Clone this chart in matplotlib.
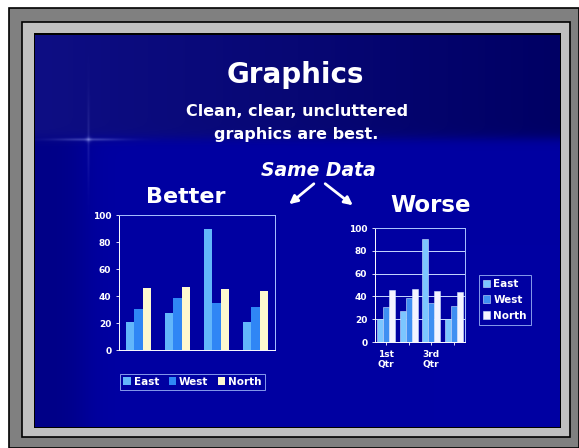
import numpy as np
import matplotlib
matplotlib.use("Agg")
import matplotlib.pyplot as plt
from matplotlib.patches import Rectangle

W, H = 579, 448

quarters = ["1st Qtr", "2nd Qtr", "3rd Qtr", "4th Qtr"]
east = [20.4, 27.4, 90.0, 20.4]
west = [30.6, 38.6, 34.6, 31.6]
north = [45.9, 46.9, 45.0, 43.9]
series_names = ["East", "West", "North"]
y_ticks = [0, 20, 40, 60, 80, 100]

colors = {
    "white": "#ffffff",
    "frame_dark": "#808080",
    "frame_light": "#c0c0c0",
    "east": "#62b6fb",
    "west": "#2f86f5",
    "north": "#fdf8cf",
    "east_3d": "#7cc6ff",
    "west_3d": "#3f8ff2",
    "north_3d": "#f4f4ff",
    "axis": "#a9c2ff",
}


def fig_box(left, top, right, bottom):
    """pixel box (from top-left) -> figure fraction rect"""
    return [left / W, 1 - bottom / H, (right - left) / W, (bottom - top) / H]


def slide_background():
    yy, xx = np.mgrid[0:H, 0:W].astype(float)
    # lower band: bright blue, slightly darker strip at the left
    lower_b = 135 + 27 / (1 + np.exp(-(xx - 82) / 10))
    lower = np.stack([np.zeros_like(xx), np.zeros_like(xx), lower_b], axis=-1)
    # top band: navy, a little lighter to the left
    t = np.clip((xx - 35) / 525, 0, 1)
    top = np.stack([14 * (1 - t), 14 * (1 - t), 132 - 32 * t], axis=-1)
    mix = 1 / (1 + np.exp(-(yy - 138) / 3))[..., None]
    img = top * (1 - mix) + lower * mix
    # faint lens flare at the left
    dx, dy = xx - 88, yy - 139
    glow = (0.30 * np.exp(-dy ** 2 / 2.0) * np.exp(-dx ** 2 / (2 * 24 ** 2))
            + 0.12 * np.exp(-dx ** 2 / 1.5) * np.exp(-dy ** 2 / (2 * 30 ** 2))
            + 0.25 * np.exp(-(dx ** 2 + dy ** 2) / 8))
    flare = np.array([170, 180, 255])
    img = img + glow[..., None] * (flare - img)
    return np.clip(img / 255, 0, 1)


fig = plt.figure(figsize=(W / 100, H / 100), dpi=100, facecolor="white")

bg = fig.add_axes([0, 0, 1, 1])
bg.set_xlim(0, W)
bg.set_ylim(H, 0)
bg.axis("off")

# picture frame
bg.add_patch(Rectangle((9, 8), W - 9, H - 8, fc=colors["frame_dark"], ec="black", lw=1.2))
bg.add_patch(Rectangle((22, 22), 548, 415, fc=colors["frame_light"], ec="black", lw=1.2))
bg.add_patch(Rectangle((34, 33), 527, 395, fc="black", ec="none"))
bg.imshow(slide_background()[35:427, 35:560], extent=[35, 560, 427, 35], zorder=2)

# titles
text_kw = dict(color="white", ha="center", va="center", weight="bold", zorder=5)
bg.text(295, 75, "Graphics", fontsize=20, **text_kw)
bg.text(297, 111, "Clean, clear, uncluttered", fontsize=11.5, **text_kw)
bg.text(296, 134, "graphics are best.", fontsize=11.5, **text_kw)
bg.text(318, 170, "Same Data", fontsize=13.5, style="italic", **text_kw)
bg.text(186, 197, "Better", fontsize=16, **text_kw)
bg.text(431, 206, "Worse", fontsize=16.5, **text_kw)

arrow_kw = dict(arrowstyle="-|>", color="white", lw=2, mutation_scale=12)
bg.annotate("", xy=(287, 206), xytext=(316, 182), arrowprops=arrow_kw, zorder=5)
bg.annotate("", xy=(355, 207), xytext=(323, 182), arrowprops=arrow_kw, zorder=5)

x = np.arange(len(quarters))
series = [east, west, north]

# ---- "Better" chart
ax1 = fig.add_axes(fig_box(119, 215, 275, 350))
ax1.patch.set_alpha(0)
bw = 0.22
for i, (vals, key) in enumerate(zip(series, ["east", "west", "north"])):
    ax1.bar(x + (i - 1) * bw, vals, bw, color=colors[key], label=series_names[i],
            edgecolor="none")
ax1.set_xlim(-0.5, 3.5)
ax1.set_ylim(0, 100)
ax1.set_yticks(y_ticks)
ax1.set_xticks([])
ax1.tick_params(axis="y", colors="white", labelsize=6.5, length=2, width=0.6)
for lab in ax1.get_yticklabels():
    lab.set_fontweight("bold")
for sp in ax1.spines.values():
    sp.set_color(colors["axis"])
    sp.set_linewidth(0.7)
ax1.spines["left"].set_color("white")
ax1.spines["bottom"].set_color("white")
leg1 = ax1.legend(loc="center", bbox_to_anchor=(115 / W, 1 - 382 / H, 155 / W, 0.001),
                  bbox_transform=fig.transFigure, ncol=3, fontsize=7.5, frameon=True,
                  handlelength=0.7, handleheight=0.7, handletextpad=0.3,
                  columnspacing=0.9, borderpad=0.3, fancybox=False)
leg1.get_frame().set_facecolor("none")
leg1.get_frame().set_edgecolor(colors["axis"])
leg1.get_frame().set_linewidth(0.7)
for t in leg1.get_texts():
    t.set_color("white")
    t.set_fontweight("bold")

# ---- "Worse" chart
ax2 = fig.add_axes(fig_box(375, 228, 465, 342))
ax2.patch.set_alpha(0)
bw2 = 0.27
for i, (vals, key) in enumerate(zip(series, ["east_3d", "west_3d", "north_3d"])):
    ax2.bar(x + (i - 1) * bw2, vals, bw2, color=colors[key], label=series_names[i],
            edgecolor="#cfe4ff", linewidth=0.4, zorder=3)
ax2.set_xlim(-0.5, 3.5)
ax2.set_ylim(0, 100)
ax2.set_yticks(y_ticks)
ax2.grid(axis="y", color="#c8d8ff", linewidth=0.7, zorder=0)
ax2.set_xticks(x)
ax2.set_xticklabels([q.replace(" ", "\n") if k % 2 == 0 else "" for k, q in enumerate(quarters)])
ax2.tick_params(colors="white", labelsize=6.5, length=2, width=0.6)
for lab in ax2.get_yticklabels() + ax2.get_xticklabels():
    lab.set_fontweight("bold")
for sp in ax2.spines.values():
    sp.set_color(colors["axis"])
    sp.set_linewidth(0.7)
ax2.spines["left"].set_color("white")
ax2.spines["bottom"].set_color("white")
leg2 = ax2.legend(loc="center", bbox_to_anchor=(477 / W, 1 - 300 / H, 56 / W, 0.001),
                  bbox_transform=fig.transFigure, ncol=1, fontsize=7.5, frameon=True,
                  handlelength=0.7, handleheight=0.7, handletextpad=0.3,
                  labelspacing=0.55, borderpad=0.4, fancybox=False)
leg2.get_frame().set_facecolor("none")
leg2.get_frame().set_edgecolor(colors["axis"])
leg2.get_frame().set_linewidth(0.7)
for t in leg2.get_texts():
    t.set_color("white")
    t.set_fontweight("bold")

fig.savefig("out.png", dpi=100, facecolor=fig.get_facecolor())
